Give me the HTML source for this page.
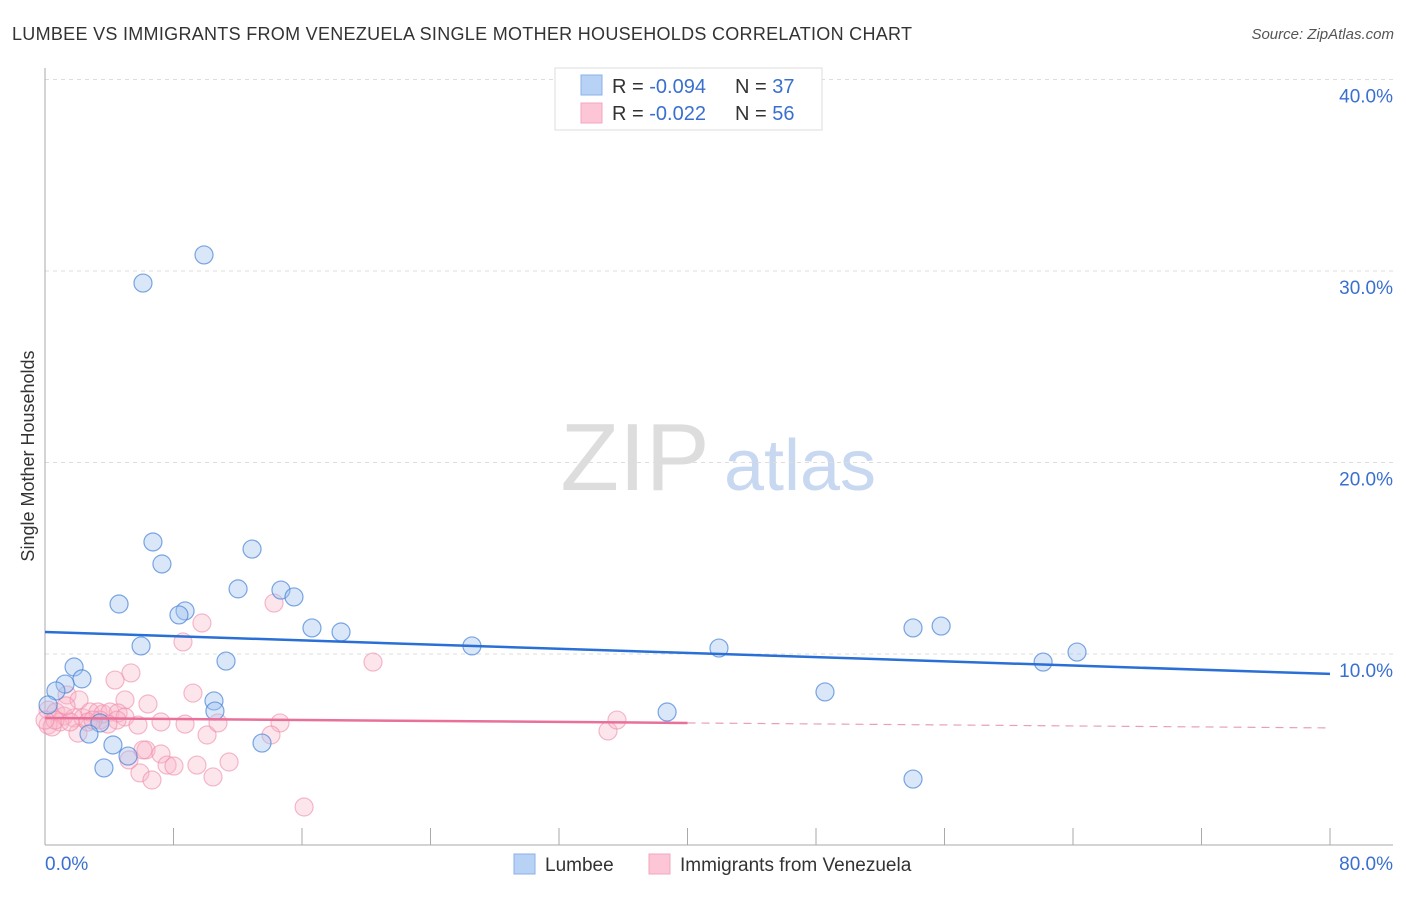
<!DOCTYPE html>
<html><head><meta charset="utf-8"><style>
body{margin:0;background:#fff;font-family:"Liberation Sans",sans-serif}
svg text{font-family:"Liberation Sans",sans-serif}
</style></head><body>
<svg id="c" width="1406" height="892">
<text x="12" y="40" font-size="18" fill="#333" textLength="900">LUMBEE VS IMMIGRANTS FROM VENEZUELA SINGLE MOTHER HOUSEHOLDS CORRELATION CHART</text>
<text x="1394" y="39" font-size="15" fill="#555" text-anchor="end" font-style="italic">Source: ZipAtlas.com</text>
<text x="34" y="456" font-size="18" fill="#333" text-anchor="middle" transform="rotate(-90 34 456)">Single Mother Households</text>
<g><text x="635" y="490" font-size="96" fill="#ddd" text-anchor="middle" font-family="Liberation Serif">ZIP</text><text x="800" y="490" font-size="72" fill="#c8d8f0" text-anchor="middle">atlas</text></g>
<g id="grid"></g><g id="axes"></g><g id="pts"></g><g id="trend"></g>
<g>
<rect x="555" y="68" width="267" height="62" fill="#fff" stroke="#ddd"/>
<rect x="581" y="75" width="21" height="20" fill="#b8d2f5" stroke="#8ab0e8"/>
<rect x="581" y="103" width="21" height="20" fill="#fcc6d6" stroke="#f0a8c0"/>
<text x="612" y="93" font-size="20" fill="#333">R = <tspan fill="#3a6fd0">-0.094</tspan><tspan x="735">N = </tspan><tspan fill="#3a6fd0">37</tspan></text>
<text x="612" y="120" font-size="20" fill="#333">R = <tspan fill="#3a6fd0"> -0.022</tspan><tspan x="735">N = </tspan><tspan fill="#3a6fd0">56</tspan></text>
</g>
<g>
<rect x="514" y="854" width="21" height="20" fill="#b8d2f5" stroke="#8ab0e8"/>
<text x="545" y="871" font-size="19" fill="#333">Lumbee</text>
<rect x="649" y="854" width="21" height="20" fill="#fcc6d6" stroke="#f0a8c0"/>
<text x="680" y="871" font-size="19" fill="#333">Immigrants from Venezuela</text>
</g>
</svg>
<script>
const yTicks=[10,20,30,40];
const yTickLabels=["10.0%","20.0%","30.0%","40.0%"];
const xTicks=[0,8,16,24,32,40,48,56,64,72,80];
const blueX=[9.90,6.10,6.72,7.28,12.89,4.61,12.02,14.69,15.50,8.72,8.34,16.62,18.43,5.98,26.58,11.27,1.81,2.30,1.25,0.68,0.19,10.52,10.58,3.42,2.74,4.23,5.17,13.51,3.67,38.73,41.96,48.56,54.04,55.79,62.14,64.25,54.04];
const blueY=[30.84,29.37,15.85,14.70,15.48,12.61,13.40,13.34,12.98,12.25,12.04,11.36,11.15,10.42,10.42,9.63,9.32,8.70,8.43,8.07,7.34,7.55,7.02,6.40,5.82,5.25,4.67,5.35,4.05,6.97,10.31,8.02,11.36,11.46,9.58,10.10,3.47];
const pinkX=[9.77,8.59,14.26,20.42,5.35,4.36,9.21,4.98,6.41,1.37,2.12,0.19,0.68,1.18,1.81,2.37,2.80,3.30,3.61,4.05,4.55,4.98,5.79,7.22,8.72,10.09,10.77,14.63,14.07,4.48,0.93,0.19,0.44,2.05,2.68,3.42,3.92,6.29,7.22,6.10,5.23,7.60,8.03,9.46,11.46,5.91,6.66,10.46,16.13,35.05,35.61,0.62,1.56,1.31,2.99,0.0];
const pinkY=[11.62,10.63,12.66,9.58,9.01,8.64,7.96,7.60,7.39,7.86,7.60,7.07,6.97,6.76,6.66,6.66,6.97,6.97,6.87,6.97,6.92,6.71,6.29,6.45,6.34,5.77,6.40,6.40,5.77,6.55,6.45,6.29,6.19,5.87,6.45,6.55,6.34,4.99,4.78,4.99,4.47,4.20,4.15,4.20,4.36,3.79,3.42,3.58,2.01,5.98,6.55,6.55,6.45,7.29,6.55,6.55];
const blueTrend=[11.15,8.96];
const pinkTrend=[6.66,6.14];
const NS="http://www.w3.org/2000/svg";
const X=v=>45+v*1285/80, Y=v=>845.5-v*19.15;
function mk(p,t,a){const e=document.createElementNS(NS,t);for(const k in a)e.setAttribute(k,a[k]);document.getElementById(p).appendChild(e);return e;}
yTicks.forEach((t,i)=>{
 const g=mk('grid','line',{x1:45,x2:1393,y1:Y(t),y2:Y(t),stroke:'#ddd','stroke-dasharray':'4,4'});
 
 
 const l=mk('grid','text',{x:1393,y:Y(t)+23,'font-size':19,fill:'#3a6fd0','text-anchor':'end'});
 l.textContent=yTickLabels[i];
 
 
});
const ax=mk('axes','line',{x1:45,x2:45,y1:68,y2:845,stroke:'#aaa'});


const bx=mk('axes','line',{x1:45,x2:1393,y1:845,y2:845,stroke:'#aaa'});


xTicks.forEach(t=>{
 const k=mk('axes','line',{x1:X(t),x2:X(t),y1:828,y2:845,stroke:'#aaa'});
 
 
});
const x0=mk('axes','text',{x:45,y:870,'font-size':19,fill:'#3a6fd0'});x0.textContent='0.0%';


const x8=mk('axes','text',{x:1393,y:870,'font-size':19,fill:'#3a6fd0','text-anchor':'end'});x8.textContent='80.0%';


pinkX.forEach((v,i)=>{
 const c=mk('pts','circle',{cx:X(v),cy:Y(pinkY[i]),r:9,fill:'rgba(248,180,200,0.35)',stroke:'rgba(238,140,170,0.6)','stroke-width':1.2});
 
 
});
blueX.forEach((v,i)=>{
 const c=mk('pts','circle',{cx:X(v),cy:Y(blueY[i]),r:9,fill:'rgba(160,196,240,0.4)',stroke:'rgba(70,130,215,0.7)','stroke-width':1.2});
 
 
});
const bt=mk('trend','line',{x1:X(0),y1:Y(blueTrend[0]),x2:X(80),y2:Y(blueTrend[1]),stroke:'#2a6fd6','stroke-width':2.5});


const pm=pinkTrend[0]+(pinkTrend[1]-pinkTrend[0])*0.5;
const pt=mk('trend','line',{x1:X(0),y1:Y(pinkTrend[0]),x2:X(40),y2:Y(pm),stroke:'#e8709a','stroke-width':2.5});


const pd=mk('trend','line',{x1:X(40),y1:Y(pm),x2:X(80),y2:Y(pinkTrend[1]),stroke:'#e8a0b8','stroke-width':1.2,'stroke-dasharray':'8,6'});


</script>
</body></html>
